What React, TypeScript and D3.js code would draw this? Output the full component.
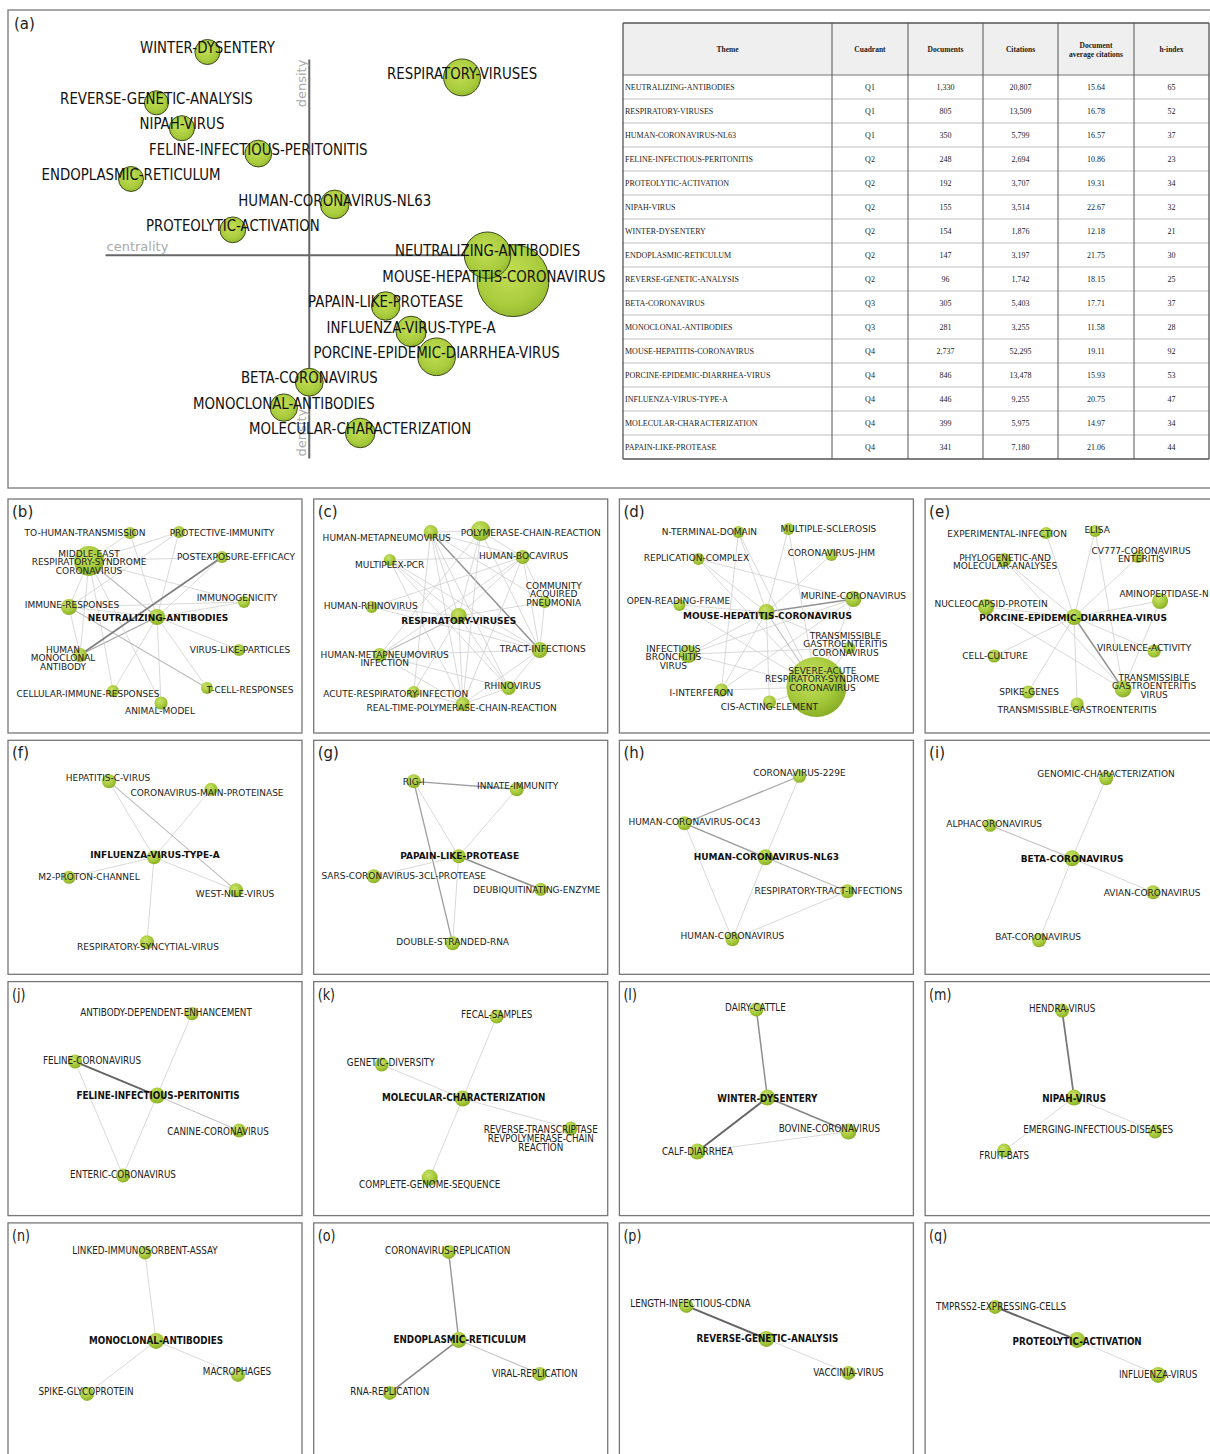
import React from "react";
import * as d3 from "d3";

// ---------------- Panel (a): strategic diagram + table ----------------
const themes = [
  "NEUTRALIZING-ANTIBODIES", "RESPIRATORY-VIRUSES", "HUMAN-CORONAVIRUS-NL63",
  "FELINE-INFECTIOUS-PERITONITIS", "PROTEOLYTIC-ACTIVATION", "NIPAH-VIRUS",
  "WINTER-DYSENTERY", "ENDOPLASMIC-RETICULUM", "REVERSE-GENETIC-ANALYSIS",
  "BETA-CORONAVIRUS", "MONOCLONAL-ANTIBODIES", "MOUSE-HEPATITIS-CORONAVIRUS",
  "PORCINE-EPIDEMIC-DIARRHEA-VIRUS", "INFLUENZA-VIRUS-TYPE-A",
  "MOLECULAR-CHARACTERIZATION", "PAPAIN-LIKE-PROTEASE",
];
const quadrants = ["Q1", "Q1", "Q1", "Q2", "Q2", "Q2", "Q2", "Q2", "Q2", "Q3", "Q3", "Q4", "Q4", "Q4", "Q4", "Q4"];
const documents = [1330, 805, 350, 248, 192, 155, 154, 147, 96, 305, 281, 2737, 846, 446, 399, 341];
const citations = [20807, 13509, 5799, 2694, 3707, 3514, 1876, 3197, 1742, 5403, 3255, 52295, 13478, 9255, 5975, 7180];
const avgCitations = [15.64, 16.78, 16.57, 10.86, 19.31, 22.67, 12.18, 21.75, 18.15, 17.71, 11.58, 19.11, 15.93, 20.75, 14.97, 21.06];
const hIndex = [65, 52, 37, 23, 34, 32, 21, 30, 25, 37, 28, 92, 53, 47, 34, 44];
// rank-based centrality / density (1 = lowest, 16 = highest)
const centralityRank = [15, 14, 9, 6, 5, 3, 4, 1, 2, 8, 7, 16, 13, 12, 10, 11];
const densityRank = [8, 15, 10, 12, 9, 13, 16, 11, 14, 3, 2, 7, 4, 5, 1, 6];
const tableHeaders = ["Theme", "Cuadrant", "Documents", "Citations", "Document\naverage citations", "h-index"];

// ---------------- Thematic networks (b)-(q) ----------------
// node: [label, layoutX, layoutY, weight, labelX, labelY]   edge: [from, to, strength]
type NetNode = [string, number, number, number, number, number];
type NetEdge = [number, number, number];

const nodesB: NetNode[] = [
  ["TO-HUMAN-TRANSMISSION", 122, 34, 1, 77, 34],
  ["PROTECTIVE-IMMUNITY", 171, 33, 1, 214, 34],
  ["MIDDLE-EAST\nRESPIRATORY-SYNDROME\nCORONAVIRUS", 81, 62, 6.25, 81, 63],
  ["POSTEXPOSURE-EFFICACY", 214, 58, 1, 228, 58],
  ["IMMUNE-RESPONSES", 61, 108, 1.78, 64, 106],
  ["IMMUNOGENICITY", 236, 103, 1, 229, 99],
  ["NEUTRALIZING-ANTIBODIES", 149, 118, 1.78, 150, 119],
  ["HUMAN\nMONOCLONAL\nANTIBODY", 72, 156, 1.36, 55, 159],
  ["VIRUS-LIKE-PARTICLES", 231, 151, 1, 232, 151],
  ["CELLULAR-IMMUNE-RESPONSES", 105, 192, 1, 80, 195],
  ["T-CELL-RESPONSES", 199, 189, 1, 242, 191],
  ["ANIMAL-MODEL", 153, 204, 1.2, 152, 212],
];
const edgesB: NetEdge[] = [
  [6, 0, 1], [6, 1, 1], [6, 2, 1.5], [6, 4, 1], [6, 5, 1], [6, 7, 2], [6, 8, 1], [6, 9, 1], [6, 10, 1], [6, 11, 1], [6, 3, 1],
  [2, 0, 1], [2, 1, 1], [2, 3, 1], [2, 4, 1], [2, 5, 1], [2, 7, 1], [2, 11, 1], [2, 9, 1],
  [4, 1, 1], [4, 5, 1], [4, 10, 1.5], [4, 7, 1], [7, 3, 3],
];

const nodesC: NetNode[] = [
  ["HUMAN-METAPNEUMOVIRUS", 117, 33, 1.36, 73, 39],
  ["POLYMERASE-CHAIN-REACTION", 167, 32, 2.78, 217, 34],
  ["MULTIPLEX-PCR", 76, 61, 1, 76, 66],
  ["HUMAN-BOCAVIRUS", 209, 58, 1.36, 210, 57],
  ["COMMUNITY\nACQUIRED\nPNEUMONIA", 231, 103, 1, 240, 95],
  ["HUMAN-RHINOVIRUS", 58, 108, 1, 57, 107],
  ["RESPIRATORY-VIRUSES", 145, 117, 1.78, 145, 122],
  ["HUMAN-METAPNEUMOVIRUS\nINFECTION", 66, 156, 1.36, 71, 160],
  ["TRACT-INFECTIONS", 226, 151, 1.78, 229, 150],
  ["ACUTE-RESPIRATORY-INFECTION", 100, 193, 1, 82, 195],
  ["RHINOVIRUS", 195, 189, 1.36, 199, 187],
  ["REAL-TIME-POLYMERASE-CHAIN-REACTION", 149, 205, 1.36, 148, 209],
];
const edgesC: NetEdge[] = [
  [6, 0, 1], [6, 1, 1], [6, 2, 1], [6, 3, 1], [6, 4, 1], [6, 5, 1], [6, 7, 1.5], [6, 8, 1], [6, 9, 1], [6, 10, 1], [6, 11, 1],
  [0, 1, 1], [0, 3, 1], [0, 8, 2.5], [0, 10, 1], [0, 11, 1], [0, 4, 1], [0, 9, 1],
  [1, 3, 1], [1, 8, 1], [1, 7, 1], [1, 11, 1],
  [2, 3, 1], [2, 8, 1], [2, 11, 1], [2, 10, 1],
  [3, 4, 1], [3, 8, 1], [3, 7, 1], [3, 11, 1], [3, 5, 1],
  [4, 8, 1], [5, 8, 1], [7, 8, 1], [7, 10, 1], [7, 11, 1], [9, 11, 1], [10, 11, 1], [8, 11, 1], [8, 10, 1],
];

const nodesD: NetNode[] = [
  ["N-TERMINAL-DOMAIN", 119, 33, 1, 90, 33],
  ["MULTIPLE-SCLEROSIS", 169, 30, 1, 209, 30],
  ["REPLICATION-COMPLEX", 79, 60, 1, 77, 59],
  ["CORONAVIRUS-JHM", 212, 56, 1, 212, 54],
  ["OPEN-READING-FRAME", 60, 106, 1, 59, 102],
  ["MURINE-CORONAVIRUS", 234, 100, 1.78, 234, 97],
  ["MOUSE-HEPATITIS-CORONAVIRUS", 147, 113, 1.78, 148, 117],
  ["TRANSMISSIBLE\nGASTROENTERITIS\nCORONAVIRUS", 230, 149, 1, 226, 145],
  ["INFECTIOUS\nBRONCHITIS\nVIRUS", 69, 155, 2.25, 54, 158],
  ["SEVERE-ACUTE\nRESPIRATORY-SYNDROME\nCORONAVIRUS", 197, 188, 25, 203, 180],
  ["I-INTERFERON", 102, 191, 1.2, 82, 194],
  ["CIS-ACTING-ELEMENT", 150, 203, 1.2, 150, 208],
];
const edgesD: NetEdge[] = [
  [6, 0, 1], [6, 1, 1], [6, 2, 1], [6, 3, 1], [6, 4, 1], [6, 5, 2.5], [6, 7, 1], [6, 8, 1], [6, 9, 1.5], [6, 10, 1], [6, 11, 1],
  [0, 9, 1], [0, 10, 1], [2, 9, 1], [4, 9, 1], [8, 5, 1], [8, 7, 1], [8, 9, 1], [10, 9, 1], [10, 5, 1],
  [11, 9, 1], [5, 9, 1], [7, 9, 1], [1, 9, 1], [2, 5, 1],
];

const nodesE: NetNode[] = [
  ["EXPERIMENTAL-INFECTION", 121, 34, 1, 82, 35],
  ["ELISA", 170, 32, 1, 172, 31],
  ["PHYLOGENETIC-AND\nMOLECULAR-ANALYSES", 79, 61, 1.36, 80, 63],
  ["CV777-CORONAVIRUS\nENTERITIS", 213, 58, 1, 216, 56],
  ["AMINOPEPTIDASE-N", 235, 102, 1.78, 239, 95],
  ["NUCLEOCAPSID-PROTEIN", 61, 108, 1.78, 66, 105],
  ["PORCINE-EPIDEMIC-DIARRHEA-VIRUS", 149, 118, 1.78, 148, 119],
  ["VIRULENCE-ACTIVITY", 229, 152, 1.2, 219, 149],
  ["CELL-CULTURE", 69, 157, 1.2, 70, 157],
  ["TRANSMISSIBLE\nGASTROENTERITIS\nVIRUS", 198, 190, 2, 229, 187],
  ["SPIKE-GENES", 103, 193, 1.2, 104, 193],
  ["TRANSMISSIBLE-GASTROENTERITIS", 152, 205, 1.2, 152, 211],
];
const edgesE: NetEdge[] = [
  [6, 0, 1], [6, 1, 1], [6, 2, 1], [6, 3, 1], [6, 4, 1], [6, 5, 1], [6, 7, 1], [6, 8, 1], [6, 9, 2.5], [6, 10, 1], [6, 11, 1],
  [1, 9, 1], [4, 9, 1], [2, 9, 1], [5, 9, 1],
];

const nodesF: NetNode[] = [
  ["HEPATITIS-C-VIRUS", 101, 41, 1.36, 100, 38],
  ["CORONAVIRUS-MAIN-PROTEINASE", 203, 49, 1.2, 199, 53],
  ["INFLUENZA-VIRUS-TYPE-A", 146, 117, 1.36, 147, 115],
  ["M2-PROTON-CHANNEL", 61, 137, 1.2, 81, 137],
  ["WEST-NILE-VIRUS", 228, 150, 1.36, 227, 154],
  ["RESPIRATORY-SYNCYTIAL-VIRUS", 139, 202, 1.36, 140, 207],
];
const edgesF: NetEdge[] = [[2, 0, 1], [2, 1, 1], [2, 3, 1], [2, 4, 1], [2, 5, 1], [0, 4, 1.5]];

const nodesG: NetNode[] = [
  ["RIG-I", 100, 41, 1.36, 100, 42],
  ["INNATE-IMMUNITY", 203, 49, 1.36, 204, 46],
  ["PAPAIN-LIKE-PROTEASE", 145, 116, 1.36, 146, 116],
  ["SARS-CORONAVIRUS-3CL-PROTEASE", 60, 136, 1.36, 90, 136],
  ["DEUBIQUITINATING-ENZYME", 227, 149, 1.2, 223, 150],
  ["DOUBLE-STRANDED-RNA", 139, 203, 1.36, 139, 202],
];
const edgesG: NetEdge[] = [[0, 1, 2.2], [0, 2, 1], [0, 5, 2.2], [1, 2, 1], [2, 3, 1], [2, 4, 2.6], [2, 5, 1]];

const nodesH: NetNode[] = [
  ["CORONAVIRUS-229E", 180, 36, 1.2, 180, 33],
  ["HUMAN-CORONAVIRUS-OC43", 65, 83, 1.36, 75, 82],
  ["HUMAN-CORONAVIRUS-NL63", 146, 117, 1.78, 147, 117],
  ["RESPIRATORY-TRACT-INFECTIONS", 228, 151, 1.36, 209, 151],
  ["HUMAN-CORONAVIRUS", 113, 199, 1.36, 113, 196],
];
const edgesH: NetEdge[] = [[0, 1, 2], [0, 2, 1], [1, 2, 2.3], [1, 4, 1], [2, 3, 1.5], [2, 4, 1], [4, 3, 1]];

const nodesI: NetNode[] = [
  ["GENOMIC-CHARACTERIZATION", 181, 38, 1.36, 181, 34],
  ["ALPHACORONAVIRUS", 65, 85, 1.2, 69, 84],
  ["BETA-CORONAVIRUS", 147, 118, 1.78, 147, 119],
  ["AVIAN-CORONAVIRUS", 228, 152, 1.36, 227, 153],
  ["BAT-CORONAVIRUS", 114, 200, 1.36, 113, 197],
];
const edgesI: NetEdge[] = [[2, 0, 1], [2, 1, 1.5], [2, 3, 1], [2, 4, 1]];

const nodesJ: NetNode[] = [
  ["ANTIBODY-DEPENDENT-ENHANCEMENT", 184, 32, 1.2, 158, 30],
  ["FELINE-CORONAVIRUS", 67, 80, 1.36, 84, 78],
  ["FELINE-INFECTIOUS-PERITONITIS", 149, 114, 1.78, 150, 113],
  ["CANINE-CORONAVIRUS", 231, 149, 1.36, 210, 149],
  ["ENTERIC-CORONAVIRUS", 115, 194, 1.36, 115, 192],
];
const edgesJ: NetEdge[] = [[2, 0, 1], [1, 2, 3.6], [1, 4, 1], [2, 3, 1.5], [2, 4, 1]];

const nodesK: NetNode[] = [
  ["FECAL-SAMPLES", 183, 35, 1.36, 183, 32],
  ["GENETIC-DIVERSITY", 68, 83, 1.36, 77, 80],
  ["MOLECULAR-CHARACTERIZATION", 149, 117, 1.78, 150, 115],
  ["REVERSE-TRANSCRIPTASE\nREVPOLYMERASE-CHAIN\nREACTION", 257, 147, 1.36, 227, 156],
  ["COMPLETE-GENOME-SEQUENCE", 116, 196, 1.78, 116, 202],
];
const edgesK: NetEdge[] = [[2, 0, 1], [2, 1, 1], [2, 3, 1], [2, 4, 1]];

const nodesL: NetNode[] = [
  ["DAIRY-CATTLE", 137, 28, 1.36, 136, 25],
  ["WINTER-DYSENTERY", 148, 116, 1.78, 148, 116],
  ["BOVINE-CORONAVIRUS", 229, 150, 1.78, 210, 146],
  ["CALF-DIARRHEA", 78, 170, 1.78, 78, 169],
];
const edgesL: NetEdge[] = [[0, 1, 2.6], [1, 3, 3.6], [1, 2, 2.8], [3, 2, 1]];

const nodesM: NetNode[] = [
  ["HENDRA-VIRUS", 137, 29, 1.36, 137, 26],
  ["NIPAH-VIRUS", 149, 116, 1.78, 149, 116],
  ["EMERGING-INFECTIOUS-DISEASES", 230, 150, 1.36, 173, 147],
  ["FRUIT-BATS", 79, 169, 1.36, 79, 173],
];
const edgesM: NetEdge[] = [[0, 1, 3.2], [1, 2, 1], [1, 3, 1]];

const nodesN: NetNode[] = [
  ["LINKED-IMMUNOSORBENT-ASSAY", 137, 30, 1.2, 137, 27],
  ["MONOCLONAL-ANTIBODIES", 148, 118, 1.78, 148, 117],
  ["MACROPHAGES", 230, 152, 1.36, 229, 148],
  ["SPIKE-GLYCOPROTEIN", 79, 171, 1.36, 78, 168],
];
const edgesN: NetEdge[] = [[1, 0, 1], [1, 2, 1], [1, 3, 1]];

const nodesO: NetNode[] = [
  ["CORONAVIRUS-REPLICATION", 135, 29, 1.36, 134, 27],
  ["ENDOPLASMIC-RETICULUM", 145, 117, 1.78, 146, 116],
  ["VIRAL-REPLICATION", 226, 151, 1.36, 221, 150],
  ["RNA-REPLICATION", 76, 170, 1.36, 76, 168],
];
const edgesO: NetEdge[] = [[0, 1, 2.4], [1, 2, 1.5], [1, 3, 2.8]];

const nodesP: NetNode[] = [
  ["LENGTH-INFECTIOUS-CDNA", 67, 83, 1.36, 71, 80],
  ["REVERSE-GENETIC-ANALYSIS", 147, 116, 1.78, 148, 115],
  ["VACCINIA-VIRUS", 229, 150, 1.36, 229, 149],
];
const edgesP: NetEdge[] = [[0, 1, 3.6], [1, 2, 1]];

const nodesQ: NetNode[] = [
  ["TMPRSS2-EXPRESSING-CELLS", 70, 84, 1.36, 76, 83],
  ["PROTEOLYTIC-ACTIVATION", 152, 117, 1.78, 152, 118],
  ["INFLUENZA-VIRUS", 233, 152, 1.78, 233, 151],
];
const edgesQ: NetEdge[] = [[0, 1, 3.6], [1, 2, 1]];

const panelIds = ["b", "c", "d", "e", "f", "g", "h", "i", "j", "k", "l", "m", "n", "o", "p", "q"];
const panelNodes = [nodesB, nodesC, nodesD, nodesE, nodesF, nodesG, nodesH, nodesI, nodesJ, nodesK, nodesL, nodesM, nodesN, nodesO, nodesP, nodesQ];
const panelEdges = [edgesB, edgesC, edgesD, edgesE, edgesF, edgesG, edgesH, edgesI, edgesJ, edgesK, edgesL, edgesM, edgesN, edgesO, edgesP, edgesQ];
const panelCentral = [6, 6, 6, 6, 2, 2, 2, 2, 2, 2, 1, 1, 1, 1, 1, 1];

const SANS = "'DejaVu Sans', Verdana, sans-serif";
const SERIF = "'Liberation Serif', 'Times New Roman', serif";

function fmt(n: number) {
  return d3.format(",")(n);
}

function StrategicDiagram() {
  const xC = d3.scaleLinear().domain([1, 16]).range([131, 513]);
  const yD = d3.scaleLinear().domain([1, 16]).range([433, 52]);
  const rS = d3.scaleLinear().domain([96, 2737]).range([12, 36]);
  const order = d3.range(themes.length).sort((a, b) => documents[b] - documents[a]);
  const axisC = 8;
  const charW = 8.6;
  const plotRight = 610;
  return (
    <g>
      <line x1={xC(0)} x2={xC(16)} y1={yD(axisC)} y2={yD(axisC)} stroke="#666" strokeWidth={2} />
      <line x1={xC(axisC)} x2={xC(axisC)} y1={yD(0)} y2={yD(15.7)} stroke="#666" strokeWidth={2} />
      <text x={xC(0) + 1} y={yD(axisC) - 4} fontFamily={SANS} fontSize={13} fill="#aaa">centrality</text>
      <text transform={`translate(${xC(axisC) - 3},${yD(15.7)}) rotate(-90)`} fontFamily={SANS} fontSize={13} fill="#aaa" textAnchor="end">density</text>
      <text transform={`translate(${xC(axisC) - 3},${yD(0) - 2}) rotate(-90)`} fontFamily={SANS} fontSize={13} fill="#aaa" textAnchor="start">density</text>
      {order.map((i) => (
        <circle key={"b" + i} cx={xC(centralityRank[i])} cy={yD(densityRank[i])} r={rS(documents[i])}
          fill="url(#bubbleGrad)" stroke="#3d4a1c" strokeWidth={1} />
      ))}
      {themes.map((t, i) => {
        const half = (t.length * charW) / 2;
        const cx = Math.min(xC(centralityRank[i]), plotRight - half);
        return (
          <text key={"l" + i} transform={`translate(${cx},${yD(densityRank[i]) - 4}) scale(0.89,1)`}
            textAnchor="middle" dominantBaseline="central" fontFamily={SANS} fontSize={15} fill="#111">{t}</text>
        );
      })}
    </g>
  );
}

function ThemeTable() {
  const cols = [623, 832, 908, 983, 1058, 1134, 1209];
  const top = 23, headH = 52;
  const rowY = d3.scaleBand<number>().domain(d3.range(themes.length)).range([top + headH, top + headH + 24 * themes.length]);
  const bottom = top + headH + 24 * themes.length;
  const mid = (k: number) => (cols[k] + cols[k + 1]) / 2;
  return (
    <g fontFamily={SERIF}>
      <rect x={cols[0]} y={top} width={cols[6] - cols[0]} height={headH} fill="#efefef" />
      {themes.map((_, i) => (
        <line key={"r" + i} x1={cols[0]} x2={cols[6]} y1={rowY(i)!} y2={rowY(i)!} stroke={i === 0 ? "#777" : "#d4d4d4"} strokeWidth={i === 0 ? 1 : 1.5} />
      ))}
      {cols.map((c, k) => (
        <line key={"c" + k} x1={c} x2={c} y1={top} y2={bottom} stroke="#555" strokeWidth={k === 0 || k === 6 ? 1.3 : 1} />
      ))}
      <line x1={cols[0]} x2={cols[6]} y1={top} y2={top} stroke="#555" strokeWidth={1.3} />
      <line x1={cols[0]} x2={cols[6]} y1={bottom} y2={bottom} stroke="#555" strokeWidth={1.3} />
      {tableHeaders.map((h, k) => {
        const lines = h.split("\n");
        return (
          <text key={"h" + k} x={mid(k)} y={top + headH / 2 - ((lines.length - 1) * 9) / 2} textAnchor="middle"
            dominantBaseline="central" fontSize={7.5} fontWeight="bold" fill="#222">
            {lines.map((ln, j) => (
              <tspan key={j} x={mid(k)} dy={j === 0 ? 0 : 9}>{ln}</tspan>
            ))}
          </text>
        );
      })}
      {themes.map((t, i) => {
        const y = rowY(i)! + rowY.bandwidth() / 2;
        const vals = [quadrants[i], fmt(documents[i]), fmt(citations[i]), avgCitations[i].toFixed(2), String(hIndex[i])];
        return (
          <g key={"t" + i} fontSize={8} fill="#222">
            <text x={cols[0] + 2} y={y} dominantBaseline="central">{t}</text>
            {vals.map((v, k) => (
              <text key={k} x={mid(k + 1)} y={y} textAnchor="middle" dominantBaseline="central">{v}</text>
            ))}
          </g>
        );
      })}
    </g>
  );
}

function Network({ idx, x0, y0, w, h, condensed }: { idx: number; x0: number; y0: number; w: number; h: number; condensed: boolean }) {
  const nodes = panelNodes[idx];
  const edges = panelEdges[idx];
  const central = panelCentral[idx];
  const sx = d3.scaleLinear().domain([0, 294]).range([x0, x0 + 294]);
  const sy = d3.scaleLinear().domain([0, 234]).range([y0, y0 + 234]);
  const rN = d3.scaleSqrt().domain([0, 1]).range([0, 6]);
  const eCol = d3.scaleLinear<string>().domain([1, 4]).range(["#cfcfcf", "#555555"]);
  const eW = d3.scaleLinear().domain([1, 4]).range([0.8, 2.1]);
  const fs = condensed ? 10 : 9;
  const sc = condensed ? 0.88 : 1;
  const lh = condensed ? 9 : 8.5;
  return (
    <g>
      <rect x={x0} y={y0} width={w} height={h} fill="#fff" stroke="#777" strokeWidth={1.3} />
      <text x={x0 + 4} y={y0 + 18} fontFamily={SANS} fontSize={15} fill="#222"
        transform={condensed ? `translate(${x0 + 4},0) scale(0.85,1) translate(${-(x0 + 4)},0)` : undefined}>({panelIds[idx]})</text>
      {edges.map(([a, b, s], k) => (
        <line key={"e" + k} x1={sx(nodes[a][1])} y1={sy(nodes[a][2])} x2={sx(nodes[b][1])} y2={sy(nodes[b][2])}
          stroke={eCol(s)} strokeWidth={eW(s)} />
      ))}
      {nodes.map((n, k) => (
        <circle key={"n" + k} cx={sx(n[1])} cy={sy(n[2])} r={rN(n[3])} fill="url(#nodeGrad)" />
      ))}
      {nodes.map((n, k) => {
        const lines = n[0].split("\n");
        const lx = sx(n[4]);
        const ly = sy(n[5]) - ((lines.length - 1) * lh) / 2;
        return (
          <text key={"t" + k} transform={`translate(${lx},${ly}) scale(${sc},1)`} textAnchor="middle"
            dominantBaseline="central" fontFamily={SANS} fontSize={fs}
            fontWeight={k === central ? "bold" : "normal"} fill={k === central ? "#111" : "#222"}>
            {lines.map((ln, j) => (
              <tspan key={j} x={0} y={j * lh}>{ln}</tspan>
            ))}
          </text>
        );
      })}
    </g>
  );
}

export default function App() {
  const W = 1210, H = 1454;
  const colX = d3.range(4).map((i) => 8 + i * 305.7);
  const rowY = d3.range(4).map((j) => 499 + j * 241.3);
  return (
    <svg width={W} height={H} style={{ position: "absolute", left: 0, top: 0, background: "#fff" }}>
      <defs>
        <radialGradient id="nodeGrad" cx="40%" cy="35%" r="70%">
          <stop offset="0%" stopColor="#cbe36a" />
          <stop offset="60%" stopColor="#a5c93a" />
          <stop offset="100%" stopColor="#86ab23" />
        </radialGradient>
        <radialGradient id="bubbleGrad" cx="45%" cy="40%" r="70%">
          <stop offset="0%" stopColor="#c4df55" />
          <stop offset="65%" stopColor="#a8cb3c" />
          <stop offset="100%" stopColor="#8cb02a" />
        </radialGradient>
      </defs>
      <rect x={0} y={0} width={W} height={H} fill="#fff" />
      <rect x={8} y={10} width={1215} height={478} fill="#fff" stroke="#777" strokeWidth={1.3} />
      <text x={14} y={29} fontFamily={SANS} fontSize={15} fill="#222">(a)</text>
      <StrategicDiagram />
      <ThemeTable />
      {panelIds.map((_, i) => (
        <Network key={i} idx={i} x0={colX[i % 4]} y0={rowY[Math.floor(i / 4)]} w={294} h={234} condensed={i >= 8} />
      ))}
    </svg>
  );
}
